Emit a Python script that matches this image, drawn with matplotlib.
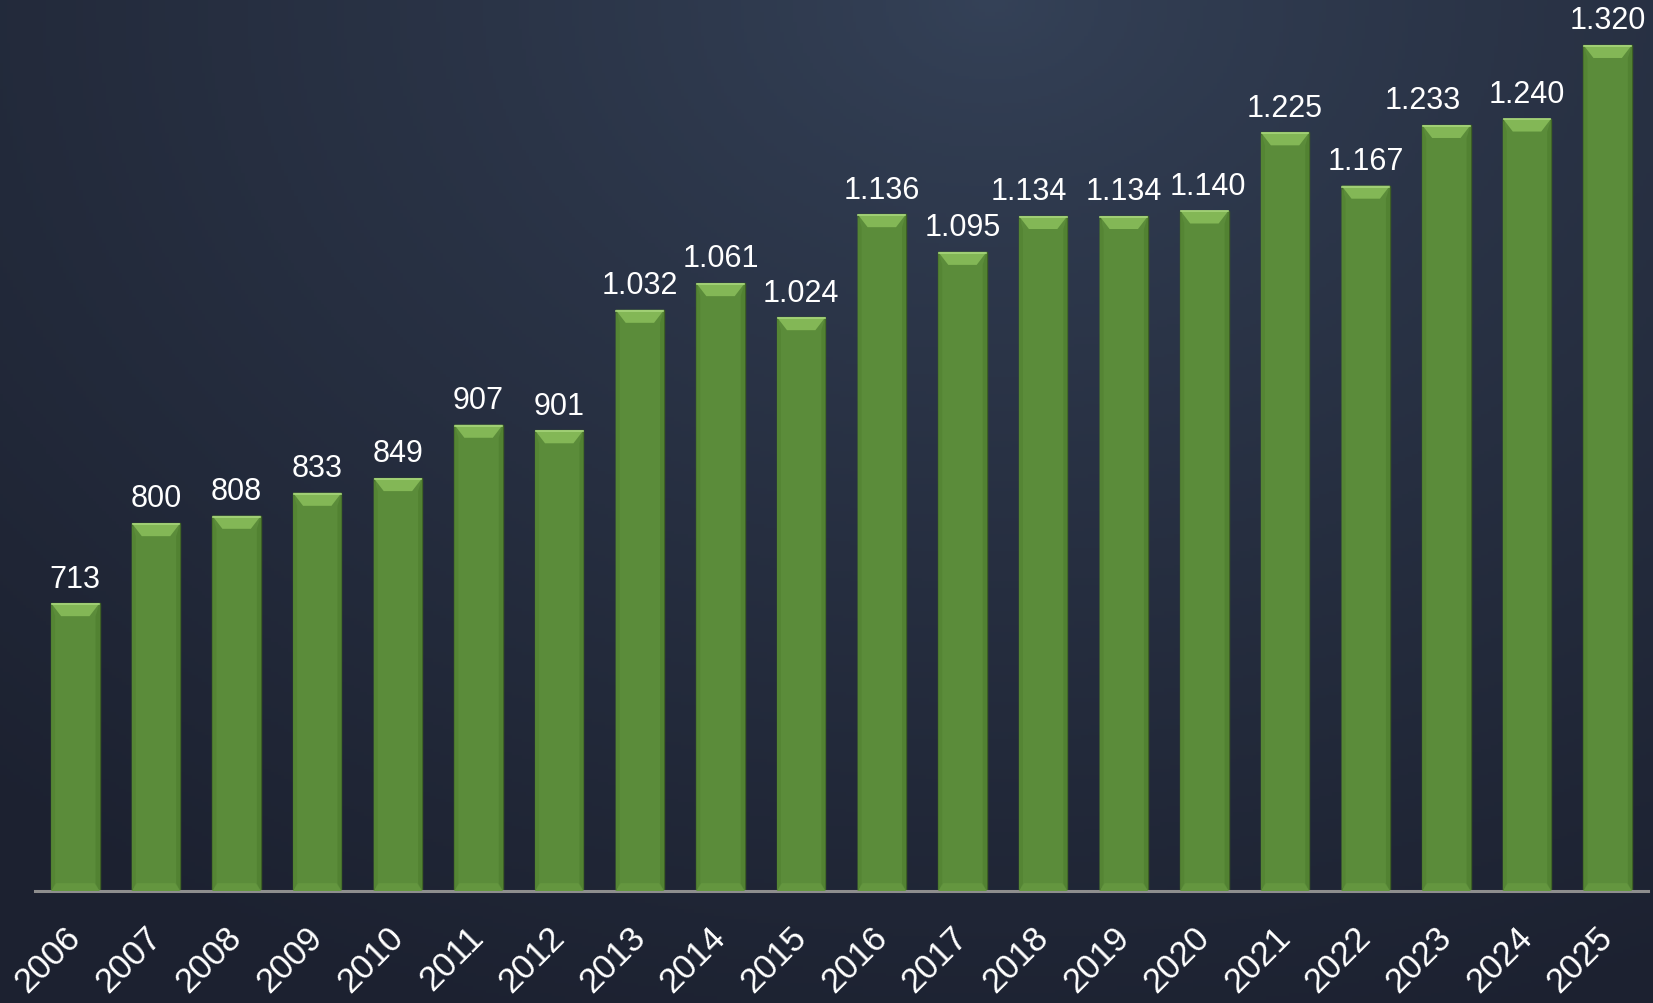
import numpy as np
import matplotlib
matplotlib.use("Agg")
import matplotlib.pyplot as plt
from matplotlib.patches import Polygon

years = ["2006", "2007", "2008", "2009", "2010", "2011", "2012", "2013", "2014", "2015",
         "2016", "2017", "2018", "2019", "2020", "2021", "2022", "2023", "2024", "2025"]
values = [713, 800, 808, 833, 849, 907, 901, 1032, 1061, 1024,
          1136, 1095, 1134, 1134, 1140, 1225, 1167, 1233, 1240, 1320]

# labels that were nudged sideways in the original (pixels)
label_nudge = {"2018": -14, "2023": -24, "2020": 3}

plt.rcParams['font.family'] = ['Liberation Sans', 'DejaVu Sans']

W, H = 1653, 1004
fig = plt.figure(figsize=(W / 100, H / 100), dpi=100)

# background: dark navy, lighter around the top centre
bg = fig.add_axes([0, 0, 1, 1], zorder=-10)
yy, xx = np.mgrid[0:1:300j, 0:1:500j]
r = np.sqrt(((xx - 0.6) / 0.9) ** 2 + (yy / 1.1) ** 2)
r = np.clip(r, 0, 1) ** 0.8
c_in = np.array([0x35, 0x42, 0x58]) / 255
c_out = np.array([0x1c, 0x21, 0x30]) / 255
img = c_in[None, None, :] * (1 - r[..., None]) + c_out[None, None, :] * r[..., None]
bg.imshow(img, aspect='auto', extent=[0, 1, 1, 0])
bg.axis('off')

left, right = 35 / W, 1648 / W
bottom = 1 - 892 / H
ax = fig.add_axes([left, bottom, right - left, 1 - bottom])
ax.patch.set_alpha(0)
ax.set_xlim(-0.5, 19.5)
ax.set_ylim(400, 1370)

x = np.arange(len(values))
bars = ax.bar(x, [v - 400 for v in values], bottom=400, width=0.6,
              color='#5b8c3a', edgecolor='#3d5f25', linewidth=1.0, zorder=2)

# pixel -> data scale for the bevels
px_x = (ax.get_xlim()[1] - ax.get_xlim()[0]) / ((right - left) * W)
px_y = (ax.get_ylim()[1] - ax.get_ylim()[0]) / ((1 - bottom) * H)
bx, by = 10 * px_x, 13 * px_y
for b in bars:
    x0 = b.get_x()
    x1 = x0 + b.get_width()
    top = b.get_y() + b.get_height()
    base = b.get_y()
    ax.add_patch(Polygon([(x0, top), (x1, top), (x1 - bx, top - by), (x0 + bx, top - by)],
                         closed=True, facecolor='#83b756', edgecolor='none', zorder=3))
    ax.plot([x0 + 0.01, x1 - 0.01], [top - 1, top - 1], color='#a6d47b', lw=1.2, zorder=4)
    ax.add_patch(Polygon([(x0, top), (x0 + bx * 0.4, top - by), (x0 + bx * 0.4, base + by * 0.6), (x0, base)],
                         closed=True, facecolor='#558534', edgecolor='none', zorder=3))
    ax.add_patch(Polygon([(x1, top), (x1 - bx * 0.4, top - by), (x1 - bx * 0.4, base + by * 0.6), (x1, base)],
                         closed=True, facecolor='#528232', edgecolor='none', zorder=3))
    ax.add_patch(Polygon([(x0, base), (x1, base), (x1 - bx * 0.5, base + by * 0.6), (x0 + bx * 0.5, base + by * 0.6)],
                         closed=True, facecolor='#64963f', edgecolor='none', zorder=3))

for xi, yr, v in zip(x, years, values):
    dx = label_nudge.get(yr, 0) * 0.72  # px -> points at 100 dpi
    ax.annotate(f"{v:,}".replace(',', '.'), (xi, v), xytext=(dx, 12), textcoords='offset points',
                ha='center', va='baseline', color='white', fontsize=22)

for s in ['top', 'right', 'left']:
    ax.spines[s].set_visible(False)
ax.spines['bottom'].set_color('#8e8e8e')
ax.spines['bottom'].set_linewidth(2.2)
ax.set_yticks([])
ax.set_xticks(x)
ax.set_xticklabels(years, rotation=45, ha='right', va='center', rotation_mode='anchor',
                   color='white', fontsize=25)
ax.tick_params(axis='x', length=0, pad=29)

fig.savefig("out.png", dpi=100)
